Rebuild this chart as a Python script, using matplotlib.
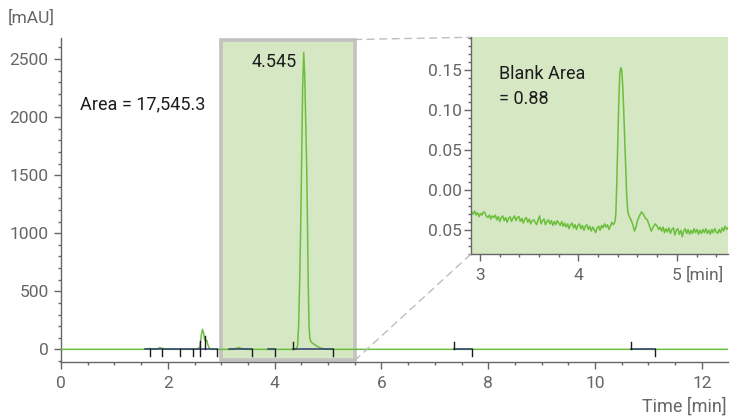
import matplotlib
matplotlib.use("Agg")
import matplotlib.pyplot as plt
from matplotlib.patches import Rectangle, ConnectionPatch
from matplotlib.ticker import MultipleLocator, FixedLocator, FixedFormatter

plt.rcParams['font.family'] = ['Roboto', 'DejaVu Sans']

# ---------------- data ----------------
# main chromatogram (time [min], signal [mAU])
main_t = [0.0, 1.55, 1.62, 1.66, 1.70, 1.80, 1.85, 1.90, 1.95, 2.0, 2.55, 2.60, 2.63, 2.65, 2.67,
          2.69, 2.71, 2.73, 2.75, 2.78, 2.82, 3.25, 3.30, 3.33, 3.37, 3.42, 3.5, 4.40, 4.43, 4.45,
          4.47, 4.49, 4.505, 4.525, 4.545, 4.565, 4.585, 4.60, 4.615, 4.63, 4.645, 4.66, 4.69,
          4.75, 4.82, 4.88, 4.95, 5.05, 12.5]
main_y = [0, 0, 3, 8, 2, 3, 15, 8, 2, 0, 0, 20, 130, 172, 140,
          80, 75, 78, 40, 5, 0, 0, 12, 15, 8, 2, 0, 0, 30, 200,
          600, 1100, 1600, 2250, 2555, 2350, 1900, 1600, 1100, 550, 200, 90, 60,
          40, 20, 8, 2, 0, 0]

# integration baselines (start, end) and event markers
base_segments = [(1.57, 2.92), (3.14, 3.57), (3.87, 4.00), (4.34, 5.10), (7.35, 7.69), (10.67, 11.13)]
down_marks = [1.66, 1.90, 2.22, 2.47, 2.60, 2.92, 3.57, 4.00, 5.10, 7.69, 11.13]
up_marks_t = [2.60, 2.69, 4.34, 7.35, 10.67]
up_marks_h = [70, 115, 60, 60, 60]

# inset (blank) trace
blank_t = [2.900, 2.915, 2.930, 2.945, 2.960, 2.975, 2.990, 3.005, 3.020, 3.035, 3.050, 3.065,
           3.080, 3.095, 3.110, 3.125, 3.140, 3.155, 3.170, 3.185, 3.200, 3.215, 3.230, 3.245,
           3.260, 3.275, 3.290, 3.305, 3.320, 3.335, 3.350, 3.365, 3.380, 3.395, 3.410, 3.425,
           3.440, 3.455, 3.470, 3.485, 3.500, 3.515, 3.530, 3.545, 3.560, 3.575, 3.590, 3.605,
           3.620, 3.635, 3.650, 3.665, 3.680, 3.695, 3.710, 3.725, 3.740, 3.755, 3.770, 3.785,
           3.800, 3.815, 3.830, 3.845, 3.860, 3.875, 3.890, 3.905, 3.920, 3.935, 3.950, 3.965,
           3.980, 3.995, 4.010, 4.025, 4.040, 4.055, 4.070, 4.085, 4.100, 4.115, 4.130, 4.145,
           4.160, 4.175, 4.190, 4.205, 4.220, 4.235, 4.250, 4.265, 4.280, 4.295, 4.310, 4.325,
           4.340, 4.355, 4.370, 4.380, 4.390, 4.400, 4.410, 4.420, 4.430, 4.440, 4.450, 4.460,
           4.470, 4.480, 4.490, 4.500, 4.510, 4.530, 4.550, 4.570, 4.585, 4.600, 4.620, 4.640,
           4.660, 4.680, 4.700, 4.720, 4.740, 4.760, 4.780, 4.800, 4.815, 4.830, 4.845, 4.860,
           4.875, 4.890, 4.905, 4.920, 4.935, 4.950, 4.965, 4.980, 4.995, 5.010, 5.025, 5.040,
           5.055, 5.070, 5.085, 5.100, 5.115, 5.130, 5.145, 5.160, 5.175, 5.190, 5.205, 5.220,
           5.235, 5.250, 5.265, 5.280, 5.295, 5.310, 5.325, 5.340, 5.355, 5.370, 5.385, 5.400,
           5.415, 5.430, 5.445, 5.460, 5.475, 5.490, 5.505, 5.520]
blank_y = [-0.034, -0.027, -0.030, -0.026, -0.031, -0.028, -0.033, -0.029, -0.031, -0.027, -0.028, -0.033,
           -0.034, -0.031, -0.036, -0.032, -0.034, -0.031, -0.037, -0.033, -0.039, -0.034, -0.032, -0.038,
           -0.034, -0.040, -0.035, -0.033, -0.039, -0.035, -0.032, -0.038, -0.034, -0.033, -0.039, -0.035,
           -0.041, -0.036, -0.034, -0.040, -0.036, -0.042, -0.038, -0.037, -0.040, -0.043, -0.037, -0.032,
           -0.042, -0.038, -0.036, -0.043, -0.039, -0.037, -0.042, -0.038, -0.044, -0.039, -0.043, -0.038,
           -0.041, -0.044, -0.039, -0.045, -0.041, -0.046, -0.042, -0.048, -0.043, -0.041, -0.047, -0.043,
           -0.049, -0.044, -0.042, -0.048, -0.044, -0.050, -0.045, -0.043, -0.049, -0.045, -0.051, -0.046,
           -0.049, -0.053, -0.047, -0.045, -0.050, -0.044, -0.047, -0.042, -0.046, -0.043, -0.049, -0.045,
           -0.040, -0.043, -0.040, -0.030, 0.010, 0.060, 0.110, 0.145, 0.153, 0.150, 0.130, 0.100,
           0.065, 0.030, -0.005, -0.025, -0.031, -0.036, -0.042, -0.051, -0.046, -0.038, -0.032, -0.027,
           -0.030, -0.035, -0.037, -0.044, -0.051, -0.046, -0.042, -0.045, -0.049, -0.046, -0.051, -0.046,
           -0.053, -0.048, -0.052, -0.047, -0.054, -0.049, -0.047, -0.056, -0.050, -0.048, -0.055, -0.050,
           -0.058, -0.051, -0.048, -0.054, -0.049, -0.055, -0.050, -0.054, -0.048, -0.053, -0.049, -0.055,
           -0.050, -0.054, -0.049, -0.053, -0.048, -0.054, -0.050, -0.055, -0.049, -0.053, -0.048, -0.052,
           -0.054, -0.049, -0.053, -0.047, -0.051, -0.045, -0.049, -0.047]

main_xticks = [0, 2, 4, 6, 8, 10, 12]
main_yticks = [0, 500, 1000, 1500, 2000, 2500]
inset_xticks = [3, 4, 5]
inset_xlabels = ['3', '4', '5']
inset_yticks = [0.15, 0.10, 0.05, 0.00, -0.05]
inset_ylabels = ['0.15', '0.10', '0.05', '0.00', '0.05']

zoom_window = (3.0, 5.5)

# ---------------- style ----------------
GREEN = '#6cbf3c'
FILL = '#d5e7c3'
BORDER = '#c2c2c2'
NAVY = '#2e3d6e'
GRAY = '#666666'
TXT = '#1c1c1c'

fig = plt.figure(figsize=(7.31, 4.16), dpi=100)
ax = fig.add_axes([61/731, 1-362/416, 667/731, 324/416])
ax.set_xlim(0, 12.49)
ax.set_ylim(-109, 2681)

for s in ['top', 'right']:
    ax.spines[s].set_visible(False)
for s in ['left', 'bottom']:
    ax.spines[s].set_color(GRAY)
    ax.spines[s].set_linewidth(1.0)

ax.set_xticks(main_xticks)
ax.set_yticks(main_yticks)
ax.xaxis.set_minor_locator(MultipleLocator(0.5))
ax.yaxis.set_minor_locator(MultipleLocator(100))
ax.tick_params(which='major', length=5, width=1, color=GRAY, labelcolor=GRAY, labelsize=12.5)
ax.tick_params(which='minor', length=2.3, width=1, color=GRAY)
ax.tick_params(axis='y', which='major', pad=4)
ax.tick_params(axis='x', which='major', pad=5)

# highlighted zoom window
rect = Rectangle((zoom_window[0], -96), zoom_window[1]-zoom_window[0], 2668+96,
                 facecolor=FILL, edgecolor=BORDER, linewidth=2.6, zorder=1, clip_on=False)
ax.add_patch(rect)

ax.plot(main_t, main_y, color=GREEN, lw=1.1, zorder=3)

for a, b in base_segments:
    ax.plot([a, b], [0, 0], color=NAVY, lw=1.1, zorder=4)
for t in down_marks:
    ax.plot([t, t], [0, -60], color=TXT, lw=1.0, zorder=5)
for t, h in zip(up_marks_t, up_marks_h):
    ax.plot([t, t], [0, h], color=TXT, lw=1.0, zorder=5)

ax.text(0.36, 2111, 'Area = 17,545.3', fontsize=13, color=TXT, ha='left', va='center')
ax.text(4.42, 2472, '4.545', fontsize=13, color=TXT, ha='right', va='center')

fig.text(8/731, 1-18/416, '[mAU]', fontsize=12.5, color=GRAY, ha='left', va='center')
fig.text(727/731, 1-407/416, 'Time [min]', fontsize=13, color=GRAY, ha='right', va='center')

# ---------------- inset ----------------
axi = fig.add_axes([470.7/731, 1-254.3/416, (728-470.7)/731, (254.3-37.3)/416])
axi.set_facecolor(FILL)
axi.set_xlim(2.905, 5.52)
axi.set_ylim(-0.080, 0.191)
for s in ['top', 'right']:
    axi.spines[s].set_visible(False)
for s in ['left', 'bottom']:
    axi.spines[s].set_color(GRAY)
    axi.spines[s].set_linewidth(1.0)
axi.xaxis.set_major_locator(FixedLocator(inset_xticks))
axi.xaxis.set_major_formatter(FixedFormatter(inset_xlabels))
axi.yaxis.set_major_locator(FixedLocator(inset_yticks))
axi.yaxis.set_major_formatter(FixedFormatter(inset_ylabels))
axi.xaxis.set_minor_locator(MultipleLocator(0.2))
axi.yaxis.set_minor_locator(MultipleLocator(0.01))
axi.tick_params(which='major', length=5, width=1, color=GRAY, labelcolor=GRAY, labelsize=12.5)
axi.tick_params(which='minor', length=2.3, width=1, color=GRAY)
axi.tick_params(axis='y', which='major', pad=1)
axi.tick_params(axis='x', which='major', pad=5)
axi.plot(blank_t, blank_y, color=GREEN, lw=1.1)
axi.text(3.19, 0.145, 'Blank Area', fontsize=13, color=TXT, ha='left', va='center')
axi.text(3.19, 0.114, '= 0.88', fontsize=13, color=TXT, ha='left', va='center')

# "[min]" placed on the same baseline as the inset's "5" tick label
fig.canvas.draw()
renderer = fig.canvas.get_renderer()
lab5 = axi.xaxis.get_majorticklabels()[2]
bb = lab5.get_window_extent(renderer)
_, _, d_lp = renderer.get_text_width_height_descent('lp', lab5.get_fontproperties(), ismath=False)
inv = fig.transFigure.inverted()
bx, by = inv.transform((bb.x1 + 4, bb.y0 + d_lp))
fig.text(bx, by, '[min]', fontsize=12.5, color=GRAY, ha='left', va='baseline')

# connecting dashed lines
for ya, yb in [(2668, 1), (-96, 0)]:
    con = ConnectionPatch(xyA=(zoom_window[1], ya), coordsA=ax.transData,
                          xyB=(0, yb), coordsB=axi.transAxes,
                          color='#bdbdbd', lw=1.0, linestyle=(0, (5, 4)))
    fig.add_artist(con)

fig.savefig('out.png', dpi=100)
